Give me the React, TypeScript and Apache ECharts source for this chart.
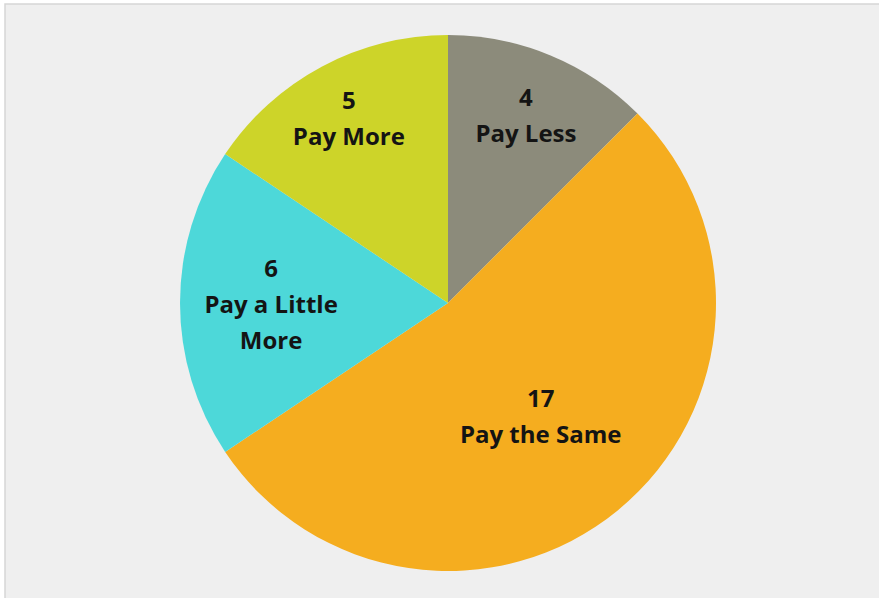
import React, { useEffect, useRef } from "react";
import * as echarts from "echarts";

const categories = ["Pay Less", "Pay the Same", "Pay a Little More", "Pay More"];
const labelTexts = ["Pay Less", "Pay the Same", "Pay a Little\nMore", "Pay More"];
const values = [4, 17, 6, 5];
const colors = ["#8C8B7B", "#F5AD1F", "#4DD8D9", "#CDD429"];
const labelRadiusFrac = [0.76, 0.545, 0.66, 0.785];

export default function App() {
  const ref = useRef<HTMLDivElement>(null);
  useEffect(() => {
    if (!ref.current) return;
    const chart = echarts.init(ref.current, null, { renderer: "svg" });
    const cx = 448, cy = 303, R = 268;
    const total = values.reduce((a, b) => a + b, 0);
    const mids: number[] = [];
    let acc = 0;
    values.forEach((v) => {
      mids.push(((acc + v / 2) / total) * Math.PI * 2);
      acc += v;
    });
    chart.setOption({
      animation: false,
      backgroundColor: "#FFFFFF",
      graphic: [
        {
          type: "rect",
          z: -10,
          silent: true,
          shape: { x: 5, y: 4, width: 900, height: 700 },
          style: { fill: "#EFEFEF", stroke: "#D6D6D6", lineWidth: 1.5 },
        },
      ],
      series: [
        {
          type: "pie",
          center: [cx, cy],
          radius: [0, R],
          startAngle: 90,
          clockwise: true,
          silent: true,
          itemStyle: { borderWidth: 0 },
          label: {
            show: true,
            position: "inside",
            formatter: (p: any) => `${p.value}\n${labelTexts[p.dataIndex]}`,
            fontFamily: "Open Sans",
            fontWeight: "bold",
            fontSize: 24,
            lineHeight: 36,
            color: "#141414",
            align: "center",
          },
          labelLine: { show: false },
          labelLayout: (params: any) => {
            const i = params.dataIndex;
            const a = mids[i];
            const r = R * labelRadiusFrac[i];
            return {
              x: cx + r * Math.sin(a),
              y: cy - r * Math.cos(a),
              align: "center",
              verticalAlign: "middle",
            };
          },
          data: categories.map((c, i) => ({
            name: c,
            value: values[i],
            itemStyle: { color: colors[i] },
          })),
        },
      ],
    });
    return () => chart.dispose();
  }, []);
  return (
    <div
      ref={ref}
      style={{ position: "fixed", left: 0, top: 0, width: 879, height: 598 }}
    />
  );
}
